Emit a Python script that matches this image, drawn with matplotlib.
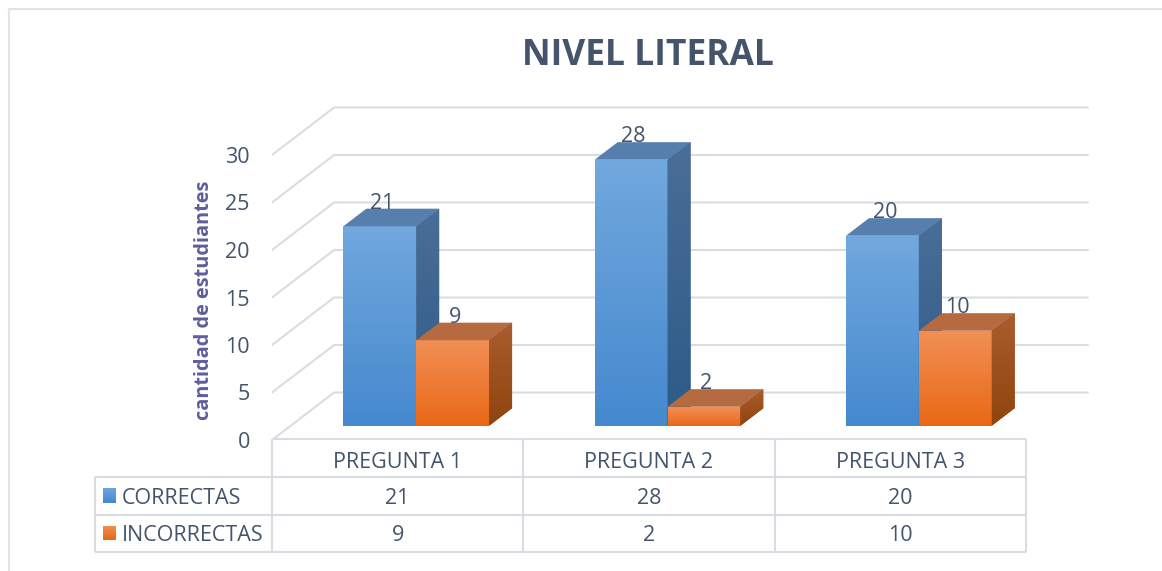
import numpy as np
import matplotlib
matplotlib.use("Agg")
import matplotlib.pyplot as plt
from matplotlib.patches import Polygon
from matplotlib.colors import to_rgba
from matplotlib.transforms import blended_transform_factory

plt.rcParams['font.family'] = ['Open Sans', 'DejaVu Sans']

# data
categories = ["PREGUNTA 1", "PREGUNTA 2", "PREGUNTA 3"]
series_names = ["CORRECTAS", "INCORRECTAS"]
correctas = [21, 28, 20]
incorrectas = [9, 2, 10]
y_ticks = [0, 5, 10, 15, 20, 25, 30]

series = [correctas, incorrectas]
# front / top / side colours per series (gradient top -> bottom)
front_cols = [("#71A8DE", "#4589CE"), ("#F28F55", "#E96816")]
top_cols = ["#577FAD", "#B66A3F"]
side_cols = [("#4A6E97", "#2D5A88"), ("#AA5C2E", "#8F450E")]

text_col = "#44546A"
grid_col = "#D9DDE3"
fs = 15.5

W, H = 1162, 571
fig = plt.figure(figsize=(W / 100, H / 100), dpi=100)
fig.patch.set_facecolor("white")

# pixel overlay for border and table
bg = fig.add_axes([0, 0, 1, 1], zorder=0)
bg.set_xlim(0, W)
bg.set_ylim(H, 0)
bg.axis("off")
bg.patch.set_alpha(0)

# plot area (front plane: x in categories, y in values)
ax = fig.add_axes([272 / W, (H - 440) / H, 3.3 * 251.3 / W, 36 * 9.5 / H], zorder=1)
ax.patch.set_alpha(0)
for s in ax.spines.values():
    s.set_visible(False)

DX, DY = 0.247, 5.0     # full depth of the floor
F0 = 0.30               # depth at which the bar fronts sit
TD = 0.37               # bar depth, fraction of floor depth
bw = 0.29
n = len(categories)

# side wall and back wall gridlines
for v in y_ticks:
    ax.plot([0, DX, DX + n], [v, v + DY, v + DY], color=grid_col, lw=1.5,
            zorder=1, solid_capstyle="round")


def gradient(patch, c_top, c_bot, z, axes=ax):
    x0, y0, x1, y1 = patch.get_path().get_extents(patch.get_transform() - axes.transData).extents
    img = np.linspace(0, 1, 64)[:, None]
    a, b = np.array(to_rgba(c_top)), np.array(to_rgba(c_bot))
    rgba = (a * (1 - img) + b * img)[:, None, :]
    if axes.yaxis_inverted():
        y0, y1 = y1, y0
    im = axes.imshow(rgba, extent=(x0, x1, y0, y1), origin="upper", aspect="auto",
                     interpolation="bilinear", zorder=z)
    im.set_clip_path(patch)


tdx, tdy = TD * DX, TD * DY
z = 2
for i in range(n):
    cx = i + 0.5 + F0 * DX
    base = F0 * DY
    for k, vals in enumerate(series):
        v = vals[i]
        xl = cx - bw + k * bw
        xr = xl + bw
        bar = ax.bar(xl, v, width=bw, bottom=base, align="edge",
                     color=front_cols[k][1], lw=0, zorder=z)[0]
        gradient(bar, front_cols[k][0], front_cols[k][1], z + 0.1)
        top = Polygon([(xl, base + v), (xr, base + v), (xr + tdx, base + v + tdy),
                       (xl + tdx, base + v + tdy)], closed=True,
                      facecolor=top_cols[k], lw=0, zorder=z + 0.2)
        ax.add_patch(top)
        side = Polygon([(xr, base), (xr + tdx, base + tdy), (xr + tdx, base + tdy + v),
                        (xr, base + v)], closed=True, facecolor=side_cols[k][1],
                       lw=0, zorder=z + 0.3)
        ax.add_patch(side)
        gradient(side, side_cols[k][0], side_cols[k][1], z + 0.4)
        ax.text(xl + bw / 2 + 0.01, base + v + tdy, str(v), ha="center",
                va="baseline", fontsize=fs, color=text_col, zorder=20)
        z += 1

ax.set_xlim(0, 3.3)
ax.set_ylim(0, 36)
ax.set_xticks([])
ax.set_yticks(y_ticks)
ax.tick_params(axis="y", length=0, pad=16, labelsize=fs, labelcolor=text_col)

# title and axis title
fig.text(648 / W, 1 - 65 / H, "NIVEL LITERAL", ha="center", va="baseline",
         fontsize=25.5, fontweight="bold", color=text_col)
fig.text(204 / W, 1 - 300 / H, "cantidad de estudiantes", rotation=90,
         ha="center", va="center", fontsize=14.3, fontweight="bold", color="#5E5E9A")

# chart border (top and left)
bg.plot([8.5, W], [8.5, 8.5], color="#E1E4E8", lw=1.5)
bg.plot([8.5, 8.5], [8.5, H], color="#E1E4E8", lw=1.5)

# data table below the plot, columns follow the category axis
tr = blended_transform_factory(ax.transData, bg.transData)
rows_y = [439, 476.5, 514.5, 552]
left_px = 94.5
lk = dict(color=grid_col, lw=1.5, solid_capstyle="butt")
ax.plot([0, n], [rows_y[0], rows_y[0]], transform=tr, clip_on=False, **lk)
for y in rows_y[1:]:
    ax.plot([0, n], [y, y], transform=tr, clip_on=False, **lk)
    bg.plot([left_px, 272], [y, y], **lk)
bg.plot([left_px, left_px], [rows_y[1], rows_y[3]], **lk)
for j in range(n + 1):
    ax.plot([j, j], [rows_y[0], rows_y[3]], transform=tr, clip_on=False, **lk)

for j, cat in enumerate(categories):
    ax.text(j + 0.5, (rows_y[0] + rows_y[1]) / 2 + 5, cat, transform=tr,
            ha="center", va="center", fontsize=fs, color=text_col, clip_on=False)
    for k, vals in enumerate(series):
        ax.text(j + 0.5, (rows_y[k + 1] + rows_y[k + 2]) / 2 + 2.5, str(vals[j]),
                transform=tr, ha="center", va="center", fontsize=fs,
                color=text_col, clip_on=False)

for k, name in enumerate(series_names):
    yc = (rows_y[k + 1] + rows_y[k + 2]) / 2
    key = plt.Rectangle((103, yc - 7.5), 12.5, 14.5, facecolor=front_cols[k][1], lw=0)
    bg.add_patch(key)
    gradient(key, front_cols[k][0], front_cols[k][1], 3, axes=bg)
    bg.text(122, yc + 2.5, name, ha="left", va="center", fontsize=fs, color=text_col)

bg.set_xlim(0, W)
bg.set_ylim(H, 0)

fig.savefig("out.png", dpi=100)
